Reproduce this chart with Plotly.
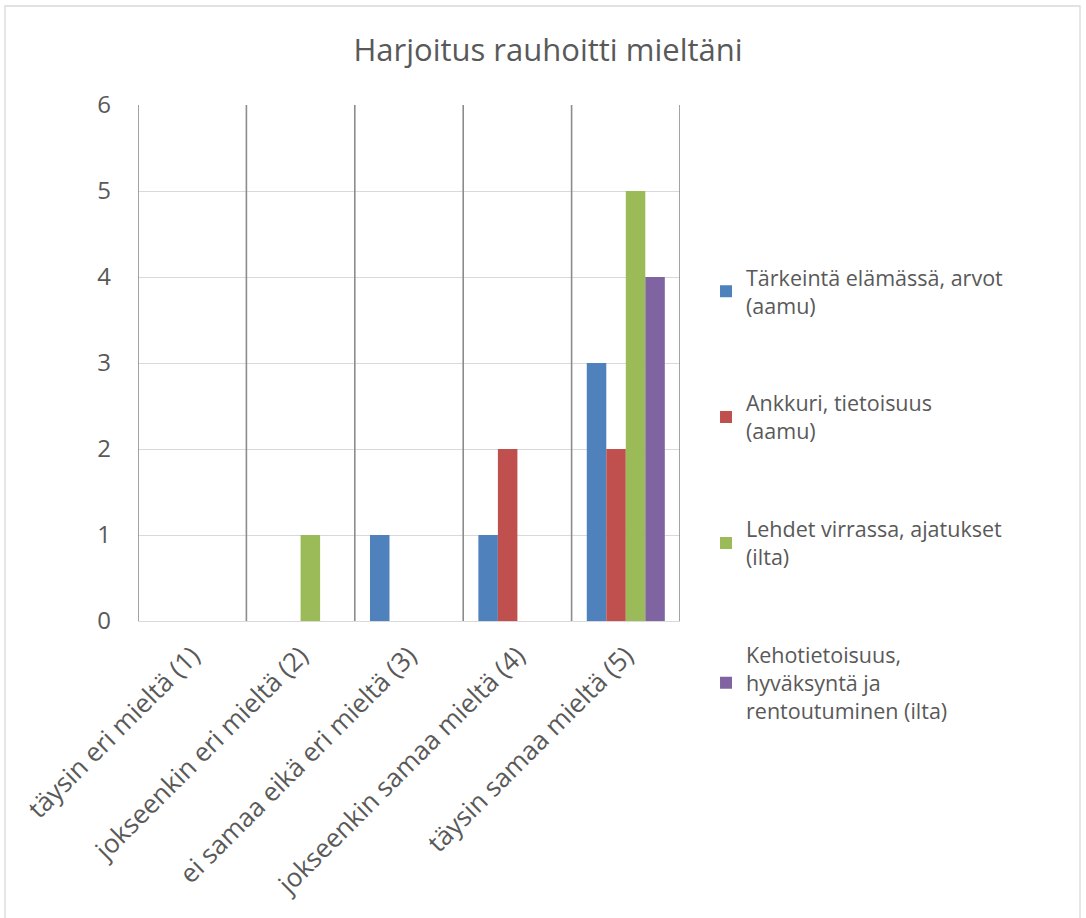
import plotly.graph_objects as go

# Survey answers: "Harjoitus rauhoitti mieltäni"
categories = [
    "täysin eri mieltä (1)",
    "jokseenkin eri mieltä (2)",
    "ei samaa eikä eri mieltä (3)",
    "jokseenkin samaa mieltä (4)",
    "täysin samaa mieltä (5)",
]
series_names = [
    "Tärkeintä elämässä, arvot<br>(aamu)",
    "Ankkuri, tietoisuus<br>(aamu)",
    "Lehdet virrassa, ajatukset<br>(ilta)",
    "Kehotietoisuus,<br>hyväksyntä ja<br>rentoutuminen (ilta)",
]
tarkeinta = [0, 0, 1, 1, 3]
ankkuri = [0, 0, 0, 2, 2]
lehdet = [0, 1, 0, 0, 5]
kehotietoisuus = [0, 0, 0, 0, 4]
y_ticks = [0, 1, 2, 3, 4, 5, 6]

colors = ["#4F81BD", "#C0504D", "#9BBB59", "#8064A2"]
text_color = "#595959"
font_family = "Open Sans, Liberation Sans, sans-serif"

fig = go.Figure()
for i, (name, vals) in enumerate(zip(series_names, [tarkeinta, ankkuri, lehdet, kehotietoisuus])):
    fig.add_trace(go.Bar(
        x=list(range(len(categories))),
        y=vals,
        name=name,
        legendgroup=f"g{i}",
        marker=dict(color=colors[i], line=dict(width=0)),
    ))

# Vertical separators between categories
for k in range(len(categories) + 1):
    fig.add_shape(type="line", xref="x", yref="y",
                  x0=k - 0.5, x1=k - 0.5, y0=0, y1=6,
                  line=dict(color="#8c8c8c", width=1.6), layer="above")

# Outer chart border
fig.add_shape(type="rect", xref="paper", yref="paper",
              x0=-0.2454, x1=1.738, y0=-0.7, y1=1.1919,
              line=dict(color="#d9d9d9", width=1.3), layer="below")

fig.update_layout(
    width=1086, height=918,
    margin=dict(l=138, r=406, t=105, b=297),
    paper_bgcolor="white", plot_bgcolor="white",
    barmode="group", bargap=0.28, bargroupgap=0,
    font=dict(family=font_family, color=text_color),
    title=dict(text="Harjoitus rauhoitti mieltäni",
               x=548 / 1086, xanchor="center", y=1 - 50 / 918, yanchor="middle",
               font=dict(size=31, color=text_color)),
    legend=dict(x=1.048, xanchor="left", y=0.706, yanchor="top",
                font=dict(size=21.5, color=text_color),
                tracegroupgap=67, itemwidth=30,
                bgcolor="rgba(0,0,0,0)"),
    showlegend=True,
)
fig.update_xaxes(
    range=[-0.5, len(categories) - 0.5],
    tickvals=list(range(len(categories))), ticktext=categories,
    tickangle=-45, tickfont=dict(size=26, color=text_color),
    showgrid=False, zeroline=False,
    showline=True, linecolor="#d9d9d9", linewidth=1.3,
    ticks="", ticklabelstandoff=8,
)
fig.update_yaxes(
    range=[0, 6], tickvals=y_ticks,
    tickfont=dict(size=24, color=text_color),
    showgrid=True, gridcolor="#d9d9d9", gridwidth=1.3,
    zeroline=False, showline=False, ticks="",
    ticklabelstandoff=26,
)

fig.write_html("out.html")
